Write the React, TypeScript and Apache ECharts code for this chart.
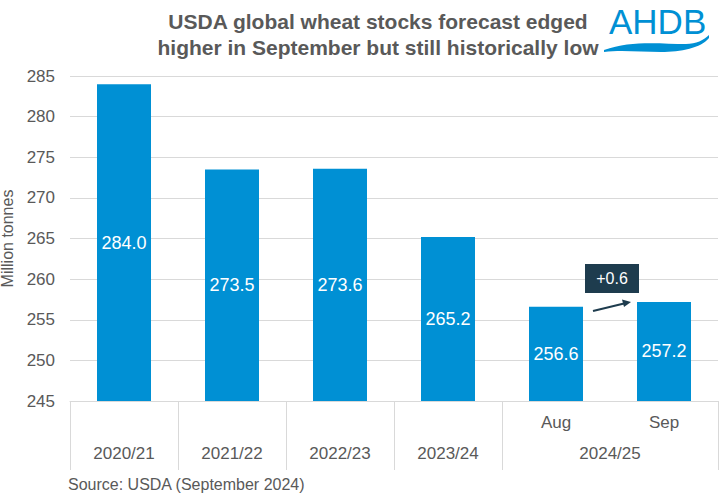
import React, { useEffect, useRef } from "react";
import * as echarts from "echarts";

const categories = ["2020/21", "2021/22", "2022/23", "2023/24", "Aug", "Sep"];
const monthLabels = ["", "", "", "", "Aug", "Sep"];
const stocks = [284.0, 273.5, 273.6, 265.2, 256.6, 257.2];
const yearLabels = ["2020/21", "2021/22", "2022/23", "2023/24", "2024/25"];
const yearPositions = [0.5, 1.5, 2.5, 3.5, 5];
const yTicks = { min: 245, max: 285, interval: 5 };
const changeLabel = "+0.6";

const FONT = "Liberation Sans, Arial, sans-serif";
const GREY = "#595959";
const BLUE = "#0090D4";

const wavePath =
  "M 0 15 C 27 5, 57 9, 82 9 C 92 9, 100 5, 105 0 L 105 3 C 97 13, 77 17, 57 17 C 37 17, 17 15, 0 17 Z";
echarts.graphic.registerShape("ahdbwave", echarts.graphic.extendPath(wavePath, {}));

export default function App() {
  const ref = useRef<HTMLDivElement>(null);
  useEffect(() => {
    if (!ref.current) return;
    const chart = echarts.init(ref.current, undefined, { renderer: "svg" });
    const option: any = {
      animation: false,
      textStyle: { fontFamily: FONT },
      title: {
        text: "USDA global wheat stocks forecast edged\nhigher in September but still historically low",
        left: 373,
        top: 3,
        textAlign: "center",
        textStyle: { fontFamily: FONT, fontSize: 21, fontWeight: "bold", color: GREY, lineHeight: 26 },
      },
      grid: { left: 70, right: 3, top: 76, bottom: 94, containLabel: false, outerBoundsMode: "none" },
      xAxis: [
        {
          type: "category",
          data: categories,
          position: "bottom",
          axisLine: { show: true, lineStyle: { color: "#d9d9d9", width: 1 } },
          axisTick: {
            show: true,
            length: 69,
            interval: (idx: number) => idx !== 5,
            lineStyle: { color: "#d9d9d9", width: 1 },
          },
          axisLabel: {
            interval: 0,
            margin: 13,
            fontSize: 17,
            color: GREY,
            fontFamily: FONT,
            formatter: (_v: string, i: number) => monthLabels[i],
          },
        },
        {
          type: "value",
          position: "bottom",
          min: 0,
          max: 6,
          interval: 0.5,
          axisLine: { show: false },
          axisTick: { show: false },
          splitLine: { show: false },
          axisLabel: {
            margin: 44,
            fontSize: 17,
            color: GREY,
            fontFamily: FONT,
            showMinLabel: true,
            showMaxLabel: true,
            formatter: (v: number) => {
              const k = yearPositions.indexOf(v);
              return k >= 0 ? yearLabels[k] : "";
            },
          },
        },
      ],
      yAxis: {
        type: "value",
        min: yTicks.min,
        max: yTicks.max,
        interval: yTicks.interval,
        name: "Million tonnes",
        nameLocation: "middle",
        nameRotate: 90,
        nameGap: 47,
        nameTextStyle: { fontSize: 16, color: GREY, fontFamily: FONT },
        axisLine: { show: false },
        axisTick: { show: false },
        axisLabel: { fontSize: 17, color: GREY, margin: 15, fontFamily: FONT },
        splitLine: { lineStyle: { color: "#d9d9d9", width: 1 } },
      },
      series: [
        {
          type: "bar",
          xAxisIndex: 0,
          data: stocks,
          barCategoryGap: "50%",
          itemStyle: { color: BLUE },
          label: {
            show: true,
            position: "inside",
            color: "#ffffff",
            fontSize: 18,
            fontFamily: FONT,
            formatter: (p: any) => Number(p.value).toFixed(1),
          },
        },
      ],
      graphic: [
        {
          type: "text",
          left: 609,
          top: 4,
          z: 100,
          style: { text: "AHDB", fontSize: 35, fontFamily: FONT, fill: BLUE, fontWeight: "normal" },
        },
        {
          type: "ahdbwave",
          x: 604,
          y: 35,
          z: 100,
          style: { fill: BLUE },
        },
        {
          type: "rect",
          z: 100,
          shape: { x: 585, y: 264, width: 54, height: 29 },
          style: { fill: "#1E3C4E" },
        },
        {
          type: "text",
          z: 101,
          x: 612,
          y: 278.5,
          style: {
            text: changeLabel,
            fill: "#ffffff",
            fontSize: 16,
            fontFamily: FONT,
            align: "center",
            verticalAlign: "middle",
          },
        },
        {
          type: "line",
          z: 100,
          shape: { x1: 593, y1: 311, x2: 624, y2: 303.5 },
          style: { stroke: "#1E3C4E", lineWidth: 2 },
        },
        {
          type: "polygon",
          z: 100,
          shape: { points: [[631, 302], [622, 299.5], [624, 307]] },
          style: { fill: "#1E3C4E" },
        },
        {
          type: "text",
          left: 68,
          top: 476,
          z: 100,
          style: { text: "Source: USDA (September 2024)", fontSize: 16, fontFamily: FONT, fill: GREY },
        },
      ],
    };
    chart.setOption(option);
    return () => chart.dispose();
  }, []);
  return <div ref={ref} style={{ width: 721, height: 495, position: "absolute", left: 0, top: 0 }} />;
}
